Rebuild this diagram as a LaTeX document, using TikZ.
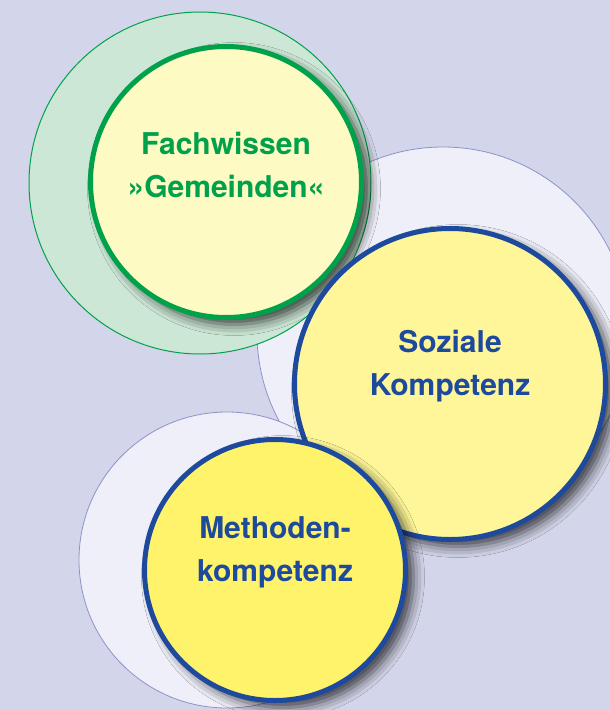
\documentclass[tikz,border=0pt]{standalone}
\usepackage{fontspec}
\setmainfont{TeX Gyre Heros}
\usetikzlibrary{calc,shadows.blur}

\definecolor{bglav}{HTML}{D3D5EA}
\definecolor{halolav}{HTML}{EEEFF8}
\definecolor{haloline}{HTML}{8E92C9}
\definecolor{halogreen}{HTML}{CDE7D6}
\definecolor{kgreen}{HTML}{00A14B}
\definecolor{kblue}{HTML}{1D4A9C}
\definecolor{paleyel}{HTML}{FEFAC3}
\definecolor{midyel}{HTML}{FEF699}
\definecolor{deepyel}{HTML}{FEF36B}

\tikzset{
  disc/.style={circle,draw,inner sep=0,outer sep=0,minimum size=#1},
  halo/.style={disc=#1,draw=haloline,line width=.8pt,fill=halolav},
  topdisc/.style={disc=#1,line width=5pt,
    blur shadow={shadow xshift=8pt,shadow yshift=-7pt,shadow blur radius=11pt,shadow opacity=72}},
  caption/.style={font=\bfseries\fontsize{30}{43}\selectfont,align=center,inner sep=0}
}

\begin{document}
\begin{tikzpicture}[x=1pt,y=-1pt]
\useasboundingbox (0,0) rectangle (610,710);
\clip (0,0) rectangle (610,710);
\fill[bglav] (0,0) rectangle (610,710);

% back rings
\node[halo=372pt] (halo-soz) at (443,333) {};
\node[halo=296pt] (halo-met) at (227,560) {};
\node[disc=342pt,draw=kgreen,line width=1pt,fill=halogreen] (halo-fach) at (200,183) {};

% front discs
\node[topdisc=271pt,draw=kgreen,fill=paleyel] (fach) at (226,182) {};
\node[topdisc=311pt,draw=kblue,fill=midyel] (soz) at (450,384) {};
\node[topdisc=261pt,draw=kblue,fill=deepyel] (met) at (275,570) {};

\node[caption,text=kgreen] (fach-t) at ([yshift=17pt]fach.center) {Fachwissen\\»Gemeinden«};
\node[caption,text=kblue] (soz-t) at ([yshift=18pt]soz.center) {Soziale\\Kompetenz};
\node[caption,text=kblue] (met-t) at ([yshift=18pt]met.center) {Methoden-\\kompetenz};
\end{tikzpicture}
\end{document}
